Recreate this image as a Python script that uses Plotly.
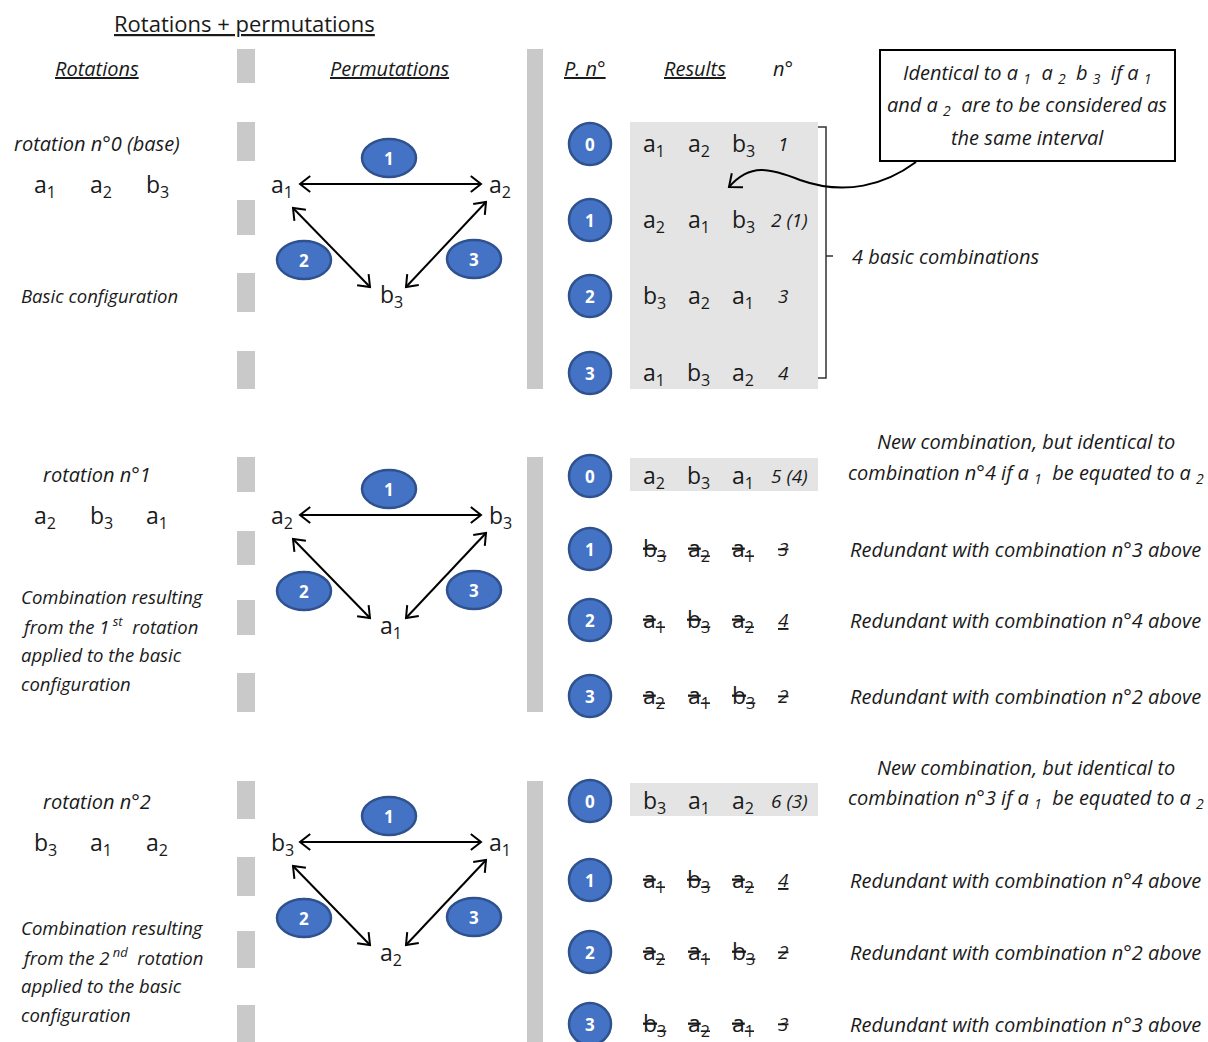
import math
import plotly.graph_objects as go

W, H = 1208, 1042
FONT = "Open Sans"

# ---------------- data ----------------
title_text = "Rotations + permutations"
headers = ["Rotations", "Permutations", "P. n°", "Results", "n°"]
headers_underlined = [True, True, True, True, False]
rotation_titles = ["rotation n°0 (base)", "rotation n°1", "rotation n°2"]
rotation_orders = [["a1", "a2", "b3"], ["a2", "b3", "a1"], ["b3", "a1", "a2"]]
rotation_notes = [
    ["Basic configuration"],
    ["Combination resulting", "from the 1<sup> st</sup>  rotation", "applied to the basic", "configuration"],
    ["Combination resulting", "from the 2<sup> nd</sup>  rotation", "applied to the basic", "configuration"],
]
perm_labels = ["0", "1", "2", "3"]
edge_labels = ["1", "2", "3"]
results = [
    [["a1", "a2", "b3"], ["a2", "a1", "b3"], ["b3", "a2", "a1"], ["a1", "b3", "a2"]],
    [["a2", "b3", "a1"], ["b3", "a2", "a1"], ["a1", "b3", "a2"], ["a2", "a1", "b3"]],
    [["b3", "a1", "a2"], ["a1", "b3", "a2"], ["a2", "a1", "b3"], ["b3", "a2", "a1"]],
]
combo_numbers = [["1", "2 (1)", "3", "4"], ["5 (4)", "3", "4", "2"], ["6 (3)", "4", "2", "3"]]
redundant = [[False, False, False, False], [False, True, True, True], [False, True, True, True]]
new_combo_comments = [
    None,
    ["New combination, but identical to", "combination n°4 if a <sub>1</sub>  be equated to a <sub>2</sub>"],
    ["New combination, but identical to", "combination n°3 if a <sub>1</sub>  be equated to a <sub>2</sub>"],
]
redundant_comments = [
    [None, None, None, None],
    [None, "Redundant with combination n°3 above", "Redundant with combination n°4 above",
     "Redundant with combination n°2 above"],
    [None, "Redundant with combination n°4 above", "Redundant with combination n°2 above",
     "Redundant with combination n°3 above"],
]
callout_lines = [
    "Identical to a <sub>1</sub>  a <sub>2</sub>  b <sub>3</sub>  if a <sub>1</sub>",
    "and a <sub>2</sub>  are to be considered as",
    "the same interval",
]
bracket_label = "4 basic combinations"

# ---------------- layout constants ----------------
BAR_GRAY = "#c9c9c9"
BOX_GRAY = "#e4e4e4"
BLUE = "#4472C4"
BLUE_EDGE = "#2F528F"
TXT = "#1a1a1a"

section_top = [184, 515, 842]
row_y = [[144, 220, 296, 373], [476, 549, 620, 696], [801, 880, 952, 1024]]
note_y0 = [295, 596, 927]
dash_spans = [
    [(49, 83), (122, 161), (200, 235), (273, 312), (351, 389)],
    [(457, 492), (531, 565), (600, 635), (673, 712)],
    [(781, 819), (857, 896), (931, 968), (1005, 1042)],
]
right_bars = [(49, 389), (457, 712), (781, 1042)]
new_comment_y = [None, (441, 473), (767, 798)]

shapes = []
annots = []


def sym(s):
    return f"{s[0]}<sub>{s[1:]}</sub>"


def text(x, y, t, size=18, italic=False, color=TXT, xanchor="center", bold=False):
    f = dict(family=FONT, size=size, color=color)
    if italic:
        f["style"] = "italic"
    if bold:
        f["weight"] = "bold"
    annots.append(dict(x=x, y=y, xref="x", yref="y", text=t, showarrow=False,
                       xanchor=xanchor, yanchor="middle", font=f))


def rect(x0, y0, x1, y1, fill, line=None, lw=0):
    shapes.append(dict(type="rect", xref="x", yref="y", x0=x0, y0=y0, x1=x1, y1=y1,
                       fillcolor=fill, line=dict(color=line or fill, width=lw), layer="below"))


def line(x0, y0, x1, y1, w=2, color="black"):
    shapes.append(dict(type="line", xref="x", yref="y", x0=x0, y0=y0, x1=x1, y1=y1,
                       line=dict(color=color, width=w)))


def chevron(tx, ty, fx, fy, L=13, ang=38):
    dx, dy = tx - fx, ty - fy
    n = math.hypot(dx, dy)
    dx, dy = dx / n, dy / n
    pts = []
    for s in (1, -1):
        a = math.radians(ang) * s
        rx = dx * math.cos(a) - dy * math.sin(a)
        ry = dx * math.sin(a) + dy * math.cos(a)
        pts.append((tx - L * rx, ty - L * ry))
    path = f"M {pts[0][0]:.1f},{pts[0][1]:.1f} L {tx},{ty} L {pts[1][0]:.1f},{pts[1][1]:.1f}"
    shapes.append(dict(type="path", xref="x", yref="y", path=path,
                       line=dict(color="black", width=2)))


def double_arrow(x0, y0, x1, y1):
    line(x0, y0, x1, y1)
    chevron(x0, y0, x1, y1)
    chevron(x1, y1, x0, y0)


def badge(cx, cy, label, rx, ry):
    shapes.append(dict(type="circle", xref="x", yref="y", x0=cx - rx, x1=cx + rx,
                       y0=cy - ry, y1=cy + ry, fillcolor=BLUE,
                       line=dict(color=BLUE_EDGE, width=2.5)))
    text(cx, cy, label, size=17, color="white", bold=True)


# ---------------- title & headers ----------------
text(244, 23, f"<u>{title_text}</u>", size=22)
header_x = [97, 389, 585, 695, 783]
for hx, h, u in zip(header_x, headers, headers_underlined):
    text(hx, 68, f"<u>{h}</u>" if u else h, size=20, italic=True)

# ---------------- sections ----------------
for s in range(3):
    top = section_top[s]
    # gray separators
    for (a, b) in dash_spans[s]:
        rect(237, a, 255, b, BAR_GRAY)
    rb = right_bars[s]
    rect(527, rb[0], 543, rb[1], BAR_GRAY)

    # rotation column
    text(97, top - 41, rotation_titles[s], size=20, italic=True)
    for i, lab in enumerate(rotation_orders[s]):
        text(45 + 56 * i, top + 1, sym(lab), size=23)
    for i, ln in enumerate(rotation_notes[s]):
        text(19, note_y0[s] + 29 * i, ln, size=18.5, italic=True, xanchor="left")

    # permutation triangle
    left_n, right_n, bottom_n = rotation_orders[s]
    text(282, top + 1, sym(left_n), size=23)
    text(500, top + 1, sym(right_n), size=23)
    text(391, top + 111, sym(bottom_n), size=23)
    double_arrow(300, top, 481, top)
    double_arrow(293, top + 24, 370, top + 103)
    double_arrow(486, top + 18, 406, top + 103)
    badge(389, top - 26, edge_labels[0], 27, 19)
    badge(304, top + 76, edge_labels[1], 27, 19)
    badge(474, top + 75, edge_labels[2], 27, 19)

    # results
    ys = row_y[s]
    if s == 0:
        rect(630, 122, 818, 389, BOX_GRAY)
    else:
        rect(630, ys[0] - 18, 818, ys[0] + 15, BOX_GRAY)
    for r in range(4):
        y = ys[r]
        badge(590, y, perm_labels[r], 21, 21)
        for i, lab in enumerate(results[s][r]):
            t = sym(lab)
            if redundant[s][r]:
                t = f"<s>{lab[0]}</s><sub><s>{lab[1:]}</s></sub>"
            text(654 + 44.5 * i, y, t, size=23)
        num = combo_numbers[s][r]
        if redundant[s][r]:
            num = f"<u>{num}</u>" if num == "4" else f"<s>{num}</s>"
        nx = 789 if "(" in combo_numbers[s][r] else 783
        text(nx, y, num, size=19, italic=True)
        rc = redundant_comments[s][r]
        if rc:
            text(848, y, rc, size=20, italic=True, xanchor="left")
    if new_combo_comments[s]:
        for ln, yy in zip(new_combo_comments[s], new_comment_y[s]):
            text(1026, yy, ln, size=20, italic=True)

# ---------------- bracket & callout ----------------
shapes.append(dict(type="path", xref="x", yref="y",
                   path="M 818,127 L 826,127 L 826,378 L 818,378 M 826,256 L 833,256",
                   line=dict(color="#333333", width=1.5)))
text(850, 256, bracket_label, size=20, italic=True, xanchor="left")

shapes.append(dict(type="rect", xref="x", yref="y", x0=880, y0=50, x1=1175, y1=161,
                   fillcolor="white", line=dict(color="black", width=2)))
for i, ln in enumerate(callout_lines):
    text(1027, 73 + 32 * i, ln, size=20, italic=True)

shapes.append(dict(type="path", xref="x", yref="y",
                   path="M 916,162 C 885,185 845,196 800,180 C 770,168 750,163 729,187",
                   line=dict(color="black", width=2)))
chevron(729, 187, 744, 175, L=14, ang=40)

fig = go.Figure()
fig.update_layout(
    width=W, height=H, margin=dict(l=0, r=0, t=0, b=0),
    paper_bgcolor="white", plot_bgcolor="white",
    xaxis=dict(range=[0, W], visible=False, fixedrange=True),
    yaxis=dict(range=[H, 0], visible=False, fixedrange=True),
    shapes=shapes, annotations=annots, showlegend=False,
)
fig.write_html("out.html", config={"displayModeBar": False},
               post_script="document.body.style.margin='0';document.body.style.overflow='hidden';")
